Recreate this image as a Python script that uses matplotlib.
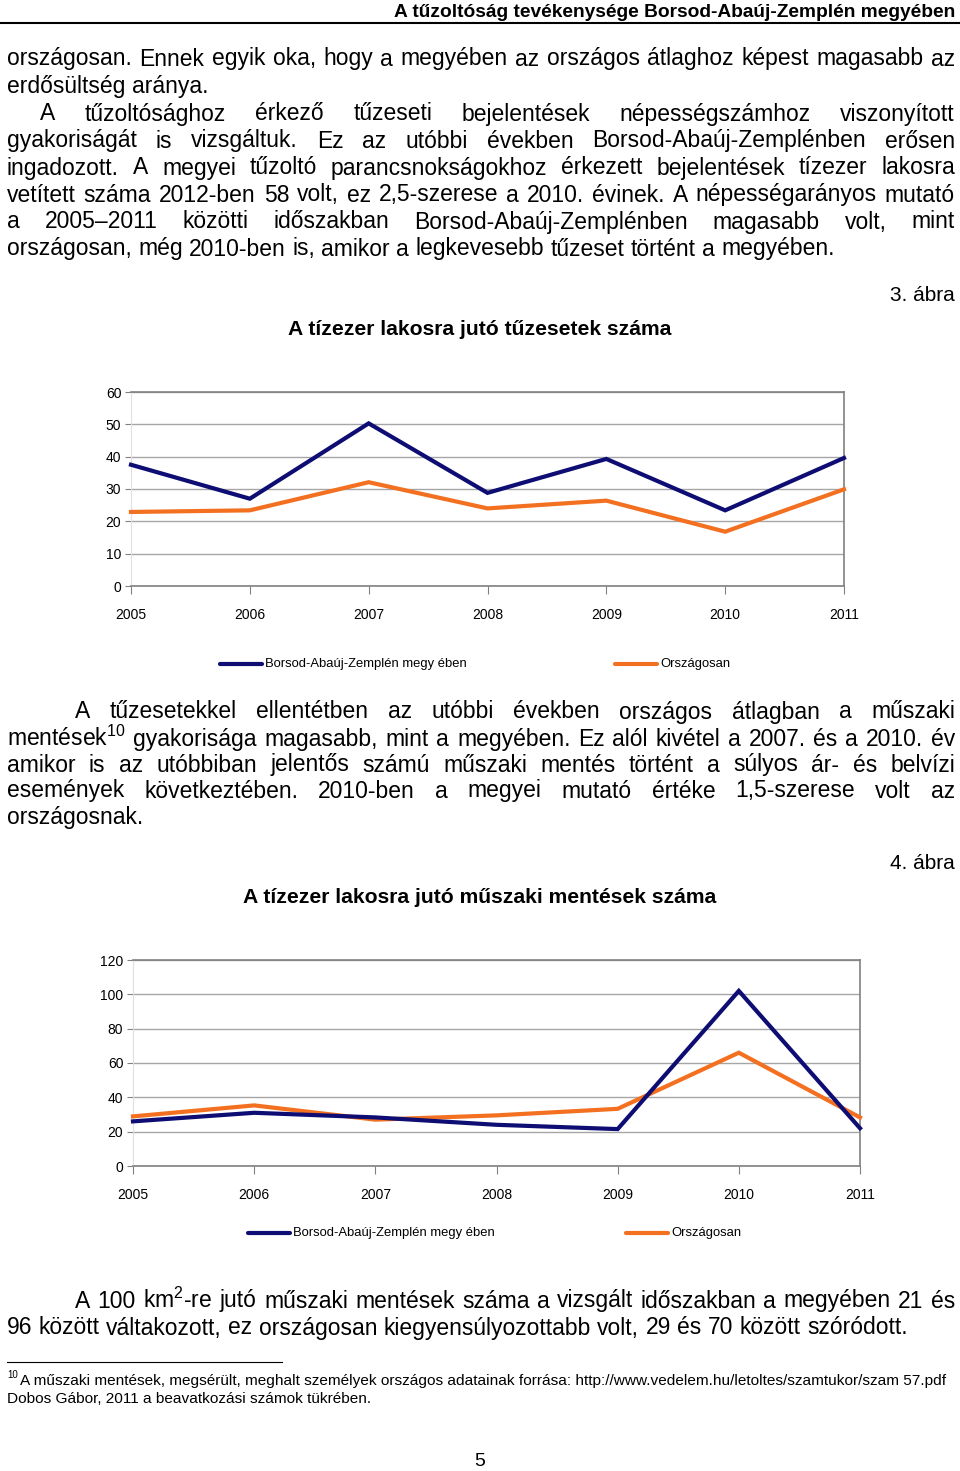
# -*- coding: utf-8 -*-
import matplotlib
matplotlib.use('Agg')
import matplotlib.pyplot as plt
from matplotlib.lines import Line2D

W, H = 960, 1471

# chart data
years = [2005, 2006, 2007, 2008, 2009, 2010, 2011]
fires_county = [37.5, 27.0, 50.3, 28.8, 39.3, 23.4, 39.6]
fires_national = [22.9, 23.4, 32.1, 24.0, 26.4, 16.8, 29.9]
rescue_county = [26.0, 31.0, 28.3, 24.0, 21.5, 102.0, 22.0]
rescue_national = [28.9, 35.3, 27.0, 29.5, 33.3, 66.0, 28.3]
legend_labels = ['Borsod-Abaúj-Zemplén megy ében', 'Országosan']

NAVY = '#0d0d73'
ORANGE = '#f37021'
FONT = ['Liberation Sans', 'DejaVu Sans']
BODY_SIZE = 16.5
SMALL = 9.35
TICK = 10

plt.rcParams['mathtext.fontset'] = 'custom'
plt.rcParams['mathtext.rm'] = 'Liberation Sans'
plt.rcParams['mathtext.it'] = 'Liberation Sans'

fig = plt.figure(figsize=(W / 100, H / 100), dpi=100)
renderer = fig.canvas.get_renderer()


def put(x, y, s, **kw):
    return fig.text(x / W, 1 - y / H, s, **kw)


def width_of(s, size):
    t = fig.text(0, 0, s, fontsize=size, family=FONT)
    w = t.get_window_extent(renderer).width
    t.remove()
    return w


def body_line(y, s, x0=7, x1=955, justify=True, size=BODY_SIZE):
    words = s.split(' ')
    ws = [width_of(w, size) for w in words]
    if justify and len(words) > 1:
        gap = (x1 - x0 - sum(ws)) / (len(words) - 1)
    else:
        gap = width_of('a a', size) - width_of('aa', size)
    x = x0
    for w, wd in zip(words, ws):
        put(x, y + 8.5, w, fontsize=size, family=FONT, va='baseline', ha='left')
        x += wd + gap


# header
put(955, 17, 'A tűzoltóság tevékenysége Borsod-Abaúj-Zemplén megyében',
    fontsize=13.8, family=FONT, weight='bold', ha='right', va='baseline')
fig.add_artist(Line2D([0, 1], [1 - 23 / H] * 2, color='black', lw=1.5))

# body text
text_lines = [
    (57, 7, 'országosan. Ennek egyik oka, hogy a megyében az országos átlaghoz képest magasabb az', True),
    (85, 7, 'erdősültség aránya.', False),
    (112, 40, 'A tűzoltósághoz érkező tűzeseti bejelentések népességszámhoz viszonyított', True),
    (139, 7, 'gyakoriságát is vizsgáltuk. Ez az utóbbi években Borsod-Abaúj-Zemplénben erősen', True),
    (166, 7, 'ingadozott. A megyei tűzoltó parancsnokságokhoz érkezett bejelentések tízezer lakosra', True),
    (193, 7, 'vetített száma 2012-ben 58 volt, ez 2,5-szerese a 2010. évinek. A népességarányos mutató', True),
    (220, 7, 'a 2005–2011 közötti időszakban Borsod-Abaúj-Zemplénben magasabb volt, mint', True),
    (247, 7, 'országosan, még 2010-ben is, amikor a legkevesebb tűzeset történt a megyében.', False),
    (710, 75, 'A tűzesetekkel ellentétben az utóbbi években országos átlagban a műszaki', True),
    (737, 7, 'mentések$^{10}$ gyakorisága magasabb, mint a megyében. Ez alól kivétel a 2007. és a 2010. év', True),
    (763, 7, 'amikor is az utóbbiban jelentős számú műszaki mentés történt a súlyos ár- és belvízi', True),
    (789, 7, 'események következtében. 2010-ben a megyei mutató értéke 1,5-szerese volt az', True),
    (816, 7, 'országosnak.', False),
    (1299, 75, 'A 100 km$^{2}$-re jutó műszaki mentések száma a vizsgált időszakban a megyében 21 és', True),
    (1326, 7, '96 között váltakozott, ez országosan kiegyensúlyozottabb volt, 29 és 70 között szóródott.', False),
]
for y, x0, s, just in text_lines:
    body_line(y, s, x0=x0, justify=just)


def draw_chart(left, right, top, bottom, county, national, ymax, ystep,
               title, title_y, fig_label, fig_label_y, leg_y, leg_x1, leg_x2):
    ax = fig.add_axes([left / W, 1 - bottom / H, (right - left) / W, (bottom - top) / H])
    ax.plot(years, national, color=ORANGE, lw=3, solid_joinstyle='miter', clip_on=False, zorder=3)
    ax.plot(years, county, color=NAVY, lw=3, solid_joinstyle='miter', clip_on=False, zorder=4)
    ax.set_xlim(years[0], years[-1])
    ax.set_ylim(0, ymax)
    ax.set_xticks(years)
    ax.set_yticks(range(0, ymax + 1, ystep))
    ax.grid(axis='y', color='#a6a6a6', lw=1)
    ax.set_axisbelow(True)
    for side in ['top', 'right', 'bottom']:
        ax.spines[side].set_color('#808080')
        ax.spines[side].set_linewidth(1.2)
    ax.spines['left'].set_color('#e0e0e0')
    ax.tick_params(axis='x', length=6, color='#808080', pad=10, labelsize=TICK)
    ax.tick_params(axis='y', length=4, color='#808080', pad=3, labelsize=TICK)
    for lab in ax.get_xticklabels() + ax.get_yticklabels():
        lab.set_family(FONT)

    put(480, title_y + 4, title, fontsize=15.2, family=FONT, weight='bold', ha='center', va='baseline')
    put(955, fig_label_y + 6, fig_label, fontsize=15, family=FONT, ha='right', va='baseline')

    for x0, col, lab in [(leg_x1, NAVY, legend_labels[0]), (leg_x2, ORANGE, legend_labels[1])]:
        fig.add_artist(Line2D([x0 / W, (x0 + 42) / W], [1 - leg_y / H] * 2, color=col,
                              lw=3, solid_capstyle='round'))
        put(x0 + 45, leg_y, lab, fontsize=SMALL, family=FONT, ha='left', va='center')
    return ax


draw_chart(131, 844, 392, 586, fires_county, fires_national, 60, 10,
           'A tízezer lakosra jutó tűzesetek száma', 331, '3. ábra', 295, 664, 220, 615)
draw_chart(133, 860, 960, 1166, rescue_county, rescue_national, 120, 20,
           'A tízezer lakosra jutó műszaki mentések száma', 899, '4. ábra', 863, 1233, 248, 626)

# footnote
fig.add_artist(Line2D([7 / W, 282 / W], [1 - 1362 / H] * 2, color='black', lw=0.8))
put(7, 1378, '10', fontsize=7, family=FONT, ha='left', va='baseline')
put(20, 1385, 'A műszaki mentések, megsérült, meghalt személyek országos adatainak forrása: '
    'http://www.vedelem.hu/letoltes/szamtukor/szam 57.pdf',
    fontsize=11.05, family=FONT, ha='left', va='baseline')
put(7, 1403, 'Dobos Gábor, 2011 a beavatkozási számok tükrében.',
    fontsize=11.05, family=FONT, ha='left', va='baseline')

put(480, 1462, '5', fontsize=14, family=FONT, ha='center', va='center')

fig.savefig('out.png', dpi=100)
